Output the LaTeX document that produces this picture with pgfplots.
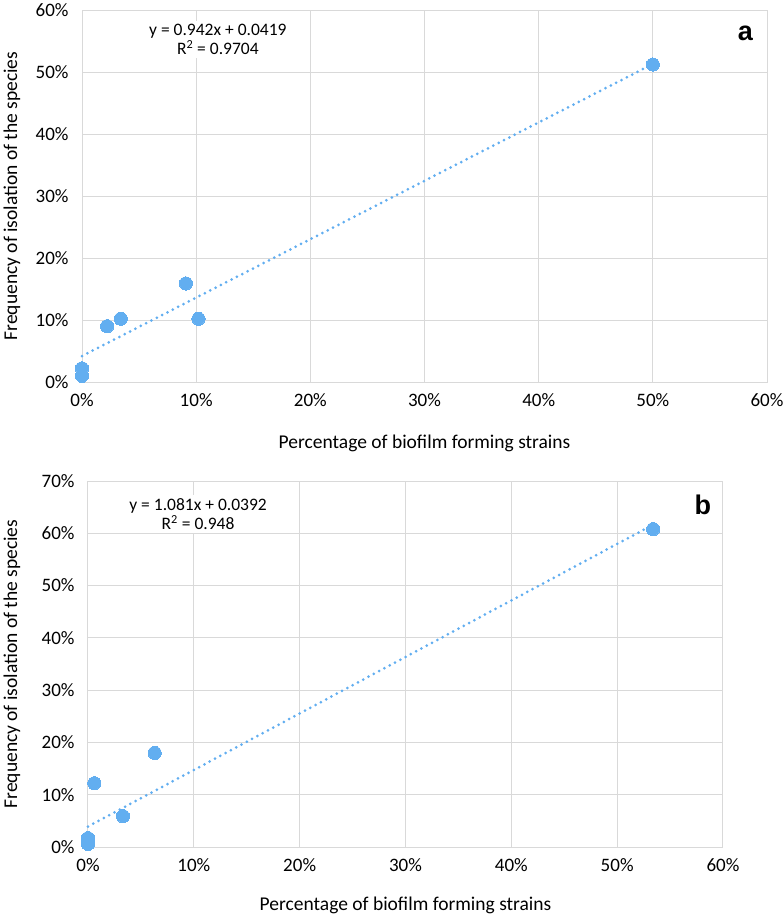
\documentclass[border=0pt]{standalone}
\usepackage{pgfplots}
\pgfplotsset{compat=1.18}
\usepackage{fontspec}
\setmainfont{Carlito}
\newfontfamily\arial{Liberation Sans}
\definecolor{ptblue}{HTML}{62AEF0}
\definecolor{gridgray}{HTML}{D9D9D9}
\begin{document}
\begin{tikzpicture}
\path[use as bounding box] (0pt,0pt) rectangle (784pt,-918pt);
\pgfplotsset{
  every axis/.append style={
    scale only axis,
    axis line style={gridgray, line width=1pt},
    grid=major,
    major grid style={gridgray, line width=1pt},
    major tick length=0pt,
    tick style={draw=none},
    ticklabel style={font=\fontsize{19}{22}\selectfont},
    xticklabel style={yshift=-8pt},
    yticklabel style={xshift=-10pt},
    label style={font=\fontsize{19.5}{23}\selectfont},
  },
  trend/.style={color=ptblue, line width=3pt, line cap=round, dash pattern=on 0pt off 6pt},
  pts/.style={color=ptblue, only marks, mark=*, mark size=6.6pt, mark options={fill=ptblue, draw=ptblue, line width=0pt}},
}
% ---------------- panel a ----------------
\begin{axis}[
  at={(82pt,-382pt)}, anchor=south west,
  width=685pt, height=372pt,
  xmin=0, xmax=60, ymin=0, ymax=60,
  xtick={0,10,20,30,40,50,60},
  xticklabels={0\%,10\%,20\%,30\%,40\%,50\%,60\%},
  ytick={0,10,20,30,40,50,60},
  yticklabels={0\%,10\%,20\%,30\%,40\%,50\%,60\%},
  xlabel={Percentage of biofilm forming strains},
  ylabel={Frequency of isolation of the species},
  xlabel style={at={(axis description cs:0.5,0)}, anchor=center, yshift=-61pt},
  ylabel style={at={(axis description cs:0,0.5)}, anchor=center, rotate=0, yshift=70pt},
  clip=false,
]
\addplot[trend] coordinates {(0,4.19) (50,51.29)};
\addplot[pts] coordinates {
  (0,2.2) (0,1.0) (2.2,9.0) (3.4,10.2) (10.2,10.2) (9.1,15.9) (50,51.2)
};
\node[fill=white, align=center, font=\fontsize{17.5}{19.5}\selectfont, inner sep=3pt]
  at (axis cs:11.9,55.3) {y = 0.942x + 0.0419\\R\textsuperscript{2} = 0.9704};
\node[font=\arial\bfseries\fontsize{27}{30}\selectfont] at (axis cs:58.1,56.3) {a};
\end{axis}
% ---------------- panel b ----------------
\begin{axis}[
  at={(88pt,-847pt)}, anchor=south west,
  width=635pt, height=366pt,
  xmin=0, xmax=60, ymin=0, ymax=70,
  xtick={0,10,20,30,40,50,60},
  xticklabels={0\%,10\%,20\%,30\%,40\%,50\%,60\%},
  ytick={0,10,20,30,40,50,60,70},
  yticklabels={0\%,10\%,20\%,30\%,40\%,50\%,60\%,70\%},
  xlabel={Percentage of biofilm forming strains},
  ylabel={Frequency of isolation of the species},
  xlabel style={at={(axis description cs:0.5,0)}, anchor=center, yshift=-58pt},
  ylabel style={at={(axis description cs:0,0.5)}, anchor=center, yshift=76pt},
  clip=false,
]
\addplot[trend] coordinates {(0,3.92) (53.4,61.64)};
\addplot[pts] coordinates {
  (0,0.6) (0,1.7) (0.6,12.2) (3.3,5.9) (6.3,18.0) (53.4,60.8)
};
\node[fill=white, align=center, font=\fontsize{17.5}{19.5}\selectfont, inner sep=3pt]
  at (axis cs:10.4,63.7) {y = 1.081x + 0.0392\\R\textsuperscript{2} = 0.948};
\node[font=\arial\bfseries\fontsize{27}{30}\selectfont] at (axis cs:58.1,65.4) {b};
\end{axis}
\end{tikzpicture}
\end{document}
